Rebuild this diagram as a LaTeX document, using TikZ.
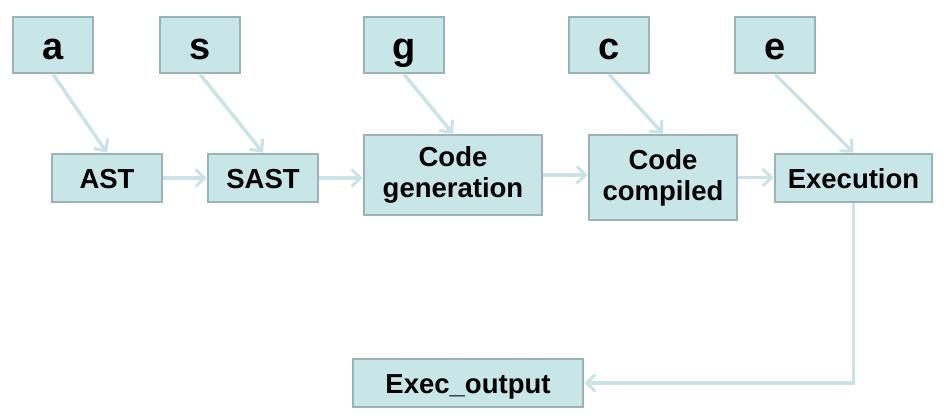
\documentclass[tikz,border=0pt]{standalone}
\usepackage{fontspec}
\setmainfont{Liberation Sans}
\usepackage{tikz}
\usepackage{xcolor}
\usetikzlibrary{arrows.meta}
\definecolor{boxfill}{HTML}{C8E5E8}
\definecolor{boxline}{HTML}{9AB3B6}
\definecolor{flow}{HTML}{CAE3E6}

\begin{document}
\begin{tikzpicture}[x=1pt,y=-1pt,
                phase/.style={draw=boxline,fill=boxfill,line width=2.5pt,inner sep=0pt,align=center,
                        font=\fontsize{27.5}{31}\selectfont\bfseries},
                single/.style={phase,minimum height=48pt,text height=20pt,text depth=0pt},
                source/.style={phase,minimum width=80pt,minimum height=56pt,text height=29pt,text depth=0pt,
                        font=\fontsize{38}{40}\selectfont\bfseries},
                flowline/.style={draw=flow,line width=3.5pt,-{Straight Barb[length=9pt,width=17pt,line width=3pt]}}]
                \useasboundingbox (0,0) rectangle (950,418);
                \node[source] (a) at (53,45) {a};
                \node[source] (s) at (200,45) {s};
                \node[source] (g) at (404,45) {g};
                \node[source] (c) at (609,45) {c};
                \node[source] (e) at (775,45) {e};
                \node[single,minimum width=110pt] (ast) at (107,178) {AST};
                \node[single,minimum width=110pt] (sast) at (263,178) {SAST};
                \node[phase,minimum width=178pt,minimum height=80pt] (codegen) at (453,175) {Code\\generation};
                \node[phase,minimum width=148pt,minimum height=85pt] (compiled) at (663,177.5) {Code\\compiled};
                \node[single,minimum width=157pt] (exec) at (853.5,178) {Execution};
                \node[single,minimum width=230pt] (output) at (468,383) {Exec\_output};
                \draw[flowline] (a.south) -- (ast.north);
                \draw[flowline] (s.south) -- (sast.north);
                \draw[flowline] (g.south) -- (codegen.north);
                \draw[flowline] (c.south) -- (compiled.north);
                \draw[flowline] (e.south) -- (exec.north);
                \draw[flowline] (ast.east) -- (sast.west);
                \draw[flowline] (sast.east) -- (sast.east-|codegen.west);
                \draw[flowline] (codegen.east) -- (codegen.east-|compiled.west);
                \draw[flowline] (compiled.east) -- (compiled.east-|exec.west);
                \draw[flowline] (exec.south) |- (output.east);
            \end{tikzpicture}
\end{document}
